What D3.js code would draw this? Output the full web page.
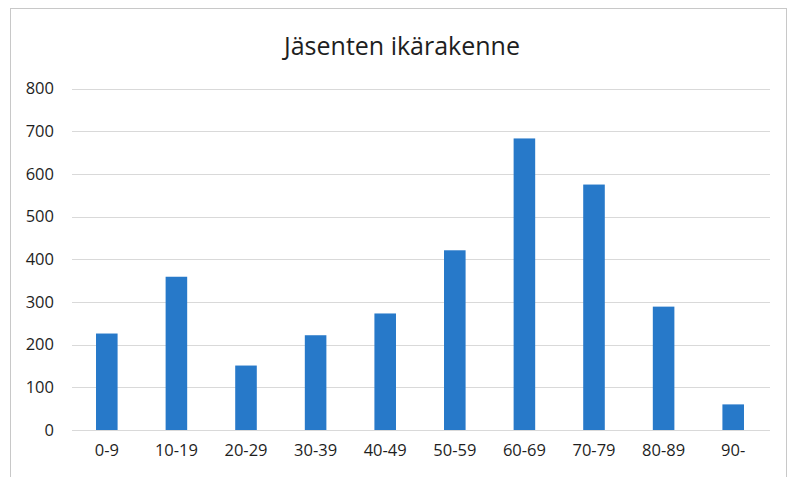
<!DOCTYPE html>
<html lang="fi">
<head>
    <meta charset="UTF-8">
    <title>Jäsenten ikärakenne</title>
    <script src="https://d3js.org/d3.v7.min.js"></script>
    <style>
        body { margin: 0; background: #fff; }
        text { font-family: "Open Sans", sans-serif; fill: #1e1e1e; }
    </style>
</head>
<body>
<script>
    var ageGroups = ["0-9", "10-19", "20-29", "30-39", "40-49", "50-59", "60-69", "70-79", "80-89", "90-"];
    var members = [226, 359, 151, 222, 273, 421, 683, 575, 289, 60];
    var yTicks = [0, 100, 200, 300, 400, 500, 600, 700, 800];

    var width = 787, height = 477;

    var svg = d3.select("body").append("svg")
        .attr("width", width)
        .attr("height", height);

    // chart frame
    svg.append("rect")
        .attr("x", 10.5).attr("y", 8.5)
        .attr("width", 776).attr("height", 480)
        .attr("fill", "none")
        .attr("stroke", "#c8c8c8");

    var x = d3.scaleBand()
        .domain(ageGroups)
        .range([72, 768])
        .paddingInner(0.69)
        .paddingOuter(0.345);

    var y = d3.scaleLinear()
        .domain([0, 800])
        .range([430, 88.5]);

    // gridlines
    svg.append("g")
        .selectAll("line")
        .data(yTicks)
        .join("line")
        .attr("x1", 72).attr("x2", 770)
        .attr("y1", d => Math.round(y(d)) + 0.5)
        .attr("y2", d => Math.round(y(d)) + 0.5)
        .attr("stroke", "#d9d9d9");

    // y axis labels
    var yAxis = svg.append("g")
        .attr("transform", "translate(72,0)")
        .call(d3.axisLeft(y).tickValues(yTicks).tickSize(0).tickPadding(18));
    yAxis.select(".domain").remove();
    yAxis.selectAll("text")
        .style("font-size", "16.5px");

    // bars
    svg.append("g")
        .selectAll("rect")
        .data(members)
        .join("rect")
        .attr("x", (d, i) => x(ageGroups[i]))
        .attr("y", d => y(d))
        .attr("width", x.bandwidth())
        .attr("height", d => y(0) - y(d))
        .attr("fill", "#2779c9");

    // x axis labels
    var xAxis = svg.append("g")
        .attr("transform", "translate(0,430)")
        .call(d3.axisBottom(x).tickSize(0).tickPadding(14));
    xAxis.select(".domain").remove();
    xAxis.selectAll("text")
        .style("font-size", "16.5px");

    svg.append("text")
        .attr("x", 402)
        .attr("y", 55)
        .attr("text-anchor", "middle")
        .style("font-size", "25px")
        .text("Jäsenten ikärakenne");
</script>
</body>
</html>
